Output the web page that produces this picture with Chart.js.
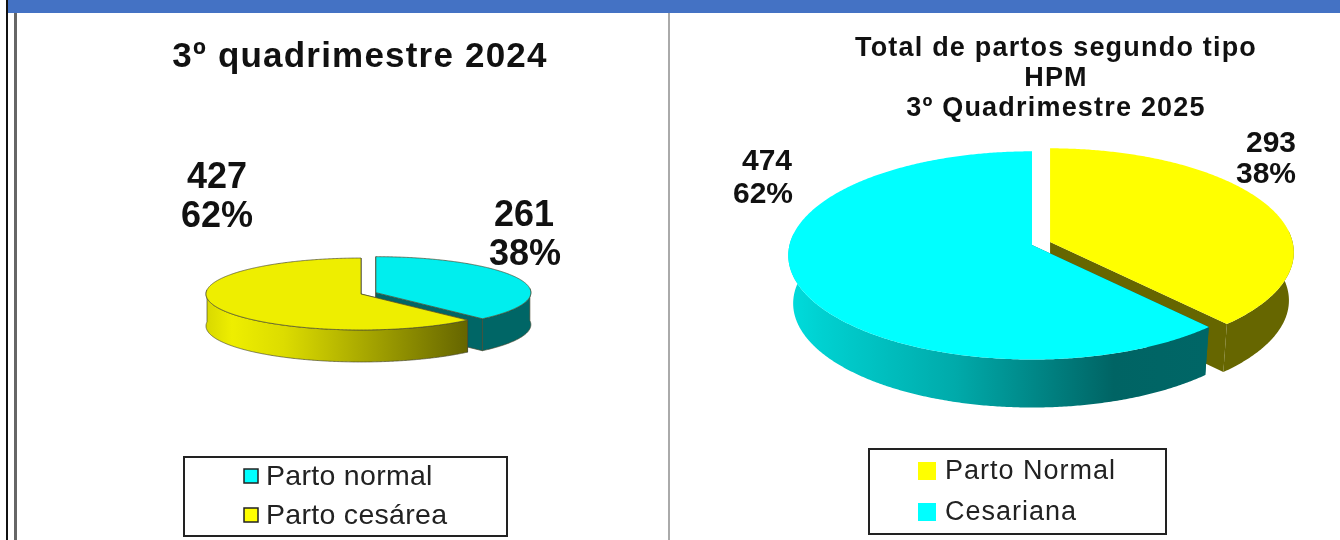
<!DOCTYPE html>
<html><head><meta charset="utf-8">
<script src="https://cdn.jsdelivr.net/npm/chart.js@4"></script>
<style>
html,body{margin:0;padding:0;background:#fff;overflow:hidden;width:1340px;height:540px}
canvas{position:absolute;left:0;top:0}
.f{position:absolute}
</style></head><body>
<div class="f" style="left:6px;top:0;width:2px;height:540px;background:#111"></div>
<div class="f" style="left:8px;top:0;width:1332px;height:13px;background:#4472C4"></div>
<div class="f" style="left:14px;top:13px;width:3px;height:527px;background:#666"></div>
<div class="f" style="left:668px;top:13px;width:2px;height:527px;background:#aaa"></div>
<canvas id="a" width="1340" height="540"></canvas>
<canvas id="b" width="1340" height="540"></canvas>
<script>
const categories2024 = ['Parto normal', 'Parto cesárea'];
const values2024 = [261, 427];
const colors2024 = ['#00EEEE', '#EEEE00'];
const legendColors2024 = ['#00FFFF', '#FFFF00'];
const title2024 = '3º quadrimestre 2024';

const categories2025 = ['Parto Normal', 'Cesariana'];
const values2025 = [293, 474];
const colors2025 = ['#FFFF00', '#00FFFF'];
const legendColors2025 = ['#FFFF00', '#00FFFF'];
const title2025 = ['Total de partos segundo tipo', 'HPM', '3º Quadrimestre 2025'];

const FONT = '"Liberation Sans", Arial, sans-serif';

const pie3d = {
  id: 'pie3d',
  beforeDraw(chart, args, o) {
    chart.ctx.letterSpacing = o.titleSpacing;
  },
  beforeDatasetDraw(chart, args, o) {
    const ctx = chart.ctx;
    ctx.letterSpacing = '0px';
    const els = args.meta.data;
    const vals = chart.data.datasets[0].data;
    const total = vals.reduce((s, v) => s + v, 0);
    const proj = (c, a, r, R) => {
      const s = 1 / (1 - o.perspective * Math.sin(a) * r / R);
      return [c[0] + r * Math.cos(a) * s, c[1] + o.tilt * r * Math.sin(a) * s];
    };
    const low = (c, p) => [c[0] + (p[0] - c[0]) * o.shrink, p[1] + o.depth];
    els.forEach((el, i) => {
      const R = el.outerRadius, a0 = el.startAngle, a1 = el.endAngle;
      const mid = (a0 + a1) / 2;
      const c = [o.center[0] + o.explode[i] * Math.cos(mid),
                 o.center[1] + o.explode[i] * o.tilt * Math.sin(mid)];
      const side = o.side[i](ctx);
      const steps = [];
      for (let a = a0; a <= a1 + 1e-6; a += Math.PI / 360) steps.push(a);
      steps.push(a1);
      // cut faces
      [a0, a1].forEach(a => {
        const p = proj(c, a, R, R);
        const cl = low(c, c), pl = low(c, p);
        ctx.beginPath(); ctx.moveTo(c[0], c[1]); ctx.lineTo(p[0], p[1]);
        ctx.lineTo(pl[0], pl[1]); ctx.lineTo(cl[0], cl[1]); ctx.closePath();
        ctx.fillStyle = o.cutColor[i]; ctx.fill();
        if (o.outline) { ctx.strokeStyle = o.outline; ctx.lineWidth = o.outlineWidth; ctx.stroke(); }
      });
      // outer wall, front half only
      const front = steps.filter(a => Math.sin(a) > -0.12);
      if (front.length) {
        ctx.beginPath();
        front.forEach((a, n) => { const p = proj(c, a, R, R); n ? ctx.lineTo(p[0], p[1]) : ctx.moveTo(p[0], p[1]); });
        front.slice().reverse().forEach(a => { const p = low(c, proj(c, a, R, R)); ctx.lineTo(p[0], p[1]); });
        ctx.closePath();
        ctx.fillStyle = side; ctx.fill();
        if (o.outline) { ctx.strokeStyle = o.outline; ctx.lineWidth = o.outlineWidth; ctx.stroke(); }
      }
      // top face
      ctx.beginPath(); ctx.moveTo(c[0], c[1]);
      steps.forEach(a => { const p = proj(c, a, R, R); ctx.lineTo(p[0], p[1]); });
      ctx.closePath();
      ctx.fillStyle = el.options.backgroundColor; ctx.fill();
      if (o.outline) { ctx.strokeStyle = o.outline; ctx.lineWidth = o.outlineWidth; ctx.stroke(); }
    });
    // data labels
    ctx.fillStyle = '#111'; ctx.textAlign = 'center'; ctx.textBaseline = 'middle';
    ctx.font = 'bold ' + o.labelSize + 'px ' + FONT;
    vals.forEach((v, i) => {
      const l = o.labels[i];
      ctx.fillText(String(v), l[0], l[1]);
      ctx.fillText(Math.round(v / total * 100) + '%', l[2], l[3]);
    });
    // legend box
    const b = o.legend;
    ctx.strokeStyle = '#222'; ctx.lineWidth = 2;
    ctx.strokeRect(b.box[0], b.box[1], b.box[2], b.box[3]);
    chart.data.labels.forEach((t, i) => {
      const y = b.ys[i];
      ctx.fillStyle = b.colors[i];
      ctx.fillRect(b.sx, y - b.ss / 2, b.ss, b.ss);
      if (b.swatchBorder) { ctx.strokeStyle = '#222'; ctx.lineWidth = 1.5; ctx.strokeRect(b.sx, y - b.ss / 2, b.ss, b.ss); }
      ctx.fillStyle = '#222'; ctx.textAlign = 'left'; ctx.textBaseline = 'middle';
      ctx.font = b.size + 'px ' + FONT;
      ctx.letterSpacing = b.spacing;
      ctx.fillText(t, b.tx, y + 1);
      ctx.letterSpacing = '0px';
    });
    return false;
  }
};

function grad(x0, x1, stops) {
  return ctx => {
    const g = ctx.createLinearGradient(x0, 0, x1, 0);
    stops.forEach(s => g.addColorStop(s[0], s[1]));
    return g;
  };
}
const flat = c => () => c;

function make(id, labels, data, colors, R, padding, title, tfont, tpad, tlh, opts) {
  return new Chart(document.getElementById(id), {
    type: 'pie',
    plugins: [pie3d],
    data: { labels, datasets: [{ data, backgroundColor: colors, radius: R, clip: false, borderWidth: 0 }] },
    options: {
      responsive: false, animation: false, rotation: 0,
      layout: { padding },
      events: [],
      plugins: {
        legend: { display: false }, tooltip: { enabled: false },
        title: { display: true, text: title, color: '#111',
                 font: { family: FONT, size: tfont, weight: 'bold', lineHeight: tlh }, padding: tpad },
        pie3d: opts
      }
    }
  });
}

make('a', categories2024, values2024, colors2024, 155, { left: 0, right: 620 },
  title2024, 35, { top: 36, bottom: 0 }, 1.2, {
  titleSpacing: '1.2px',
  center: [361, 294], tilt: 0.232, perspective: 0, depth: 32, shrink: 1, explode: [16, 0],
  cutColor: ['#006666', '#666600'],
  side: [flat('#006666'), grad(206, 466, [[0, '#D8D800'], [0.1, '#EEEE00'], [0.3, '#DCDC00'], [1, '#666600']])],
  outline: '#4a4a30', outlineWidth: 0.7, labelSize: 36,
  labels: [[524, 216, 525, 255], [217, 178, 217, 217]],
  legend: { box: [184, 457, 323, 79], sx: 244, ss: 14, ys: [476, 515], tx: 266, size: 28.5, spacing: '0.3px', colors: legendColors2024, swatchBorder: true }
});

make('b', categories2025, values2025, colors2025, 242.5, { left: 772, right: 0 },
  title2025, 27, { top: 34, bottom: 0 }, 1.11, {
  titleSpacing: '1.2px',
  center: [1032, 245], tilt: 0.425, perspective: 0.1, depth: 48, shrink: 0.98, explode: [19.4, 0],
  cutColor: ['#666600', '#006666'],
  side: [flat('#666600'), grad(790, 1205, [[0, '#00DCDC'], [0.08, '#00D0D0'], [0.4, '#00AAAA'], [0.78, '#006464'], [1, '#006666']])],
  outline: null, outlineWidth: 0, labelSize: 30,
  labels: [[1271, 144, 1266, 175], [767, 162, 763, 195]],
  legend: { box: [869, 449, 297, 85], sx: 918, ss: 18, ys: [471, 512], tx: 945, size: 27, spacing: '1px', colors: legendColors2025, swatchBorder: false }
});
</script>
</body></html>
